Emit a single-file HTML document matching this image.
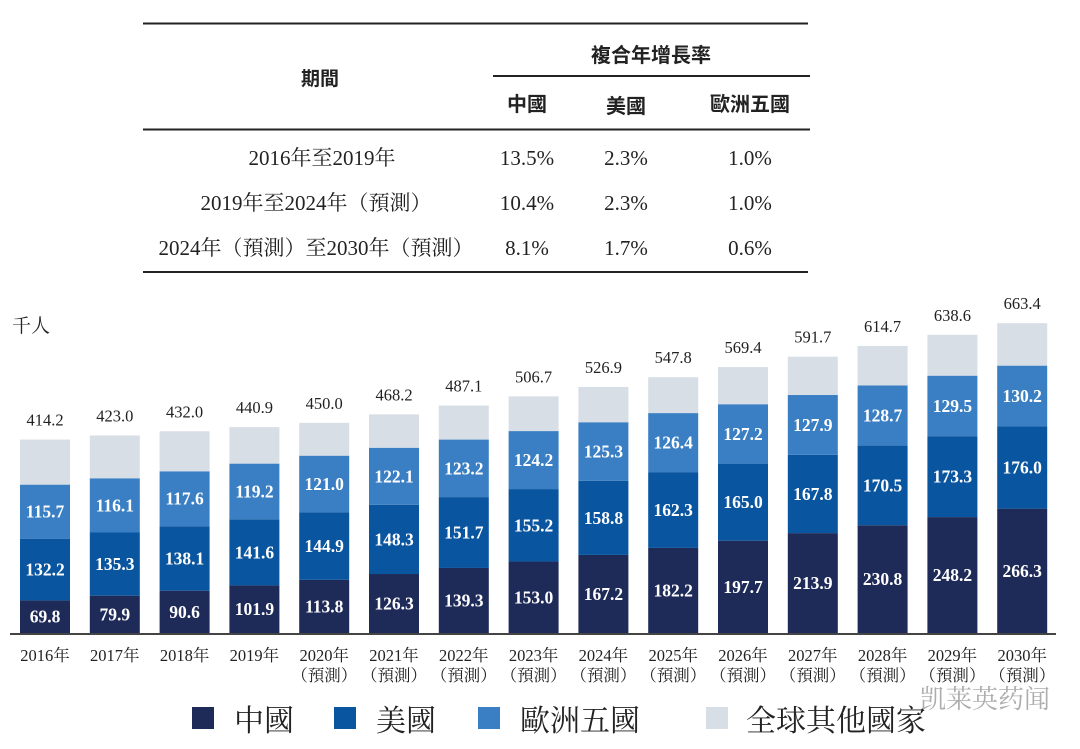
<!DOCTYPE html>
<html><head><meta charset="utf-8">
<style>
html,body{margin:0;padding:0;background:#fff;}
svg{display:block;}
text{font-family:"Liberation Serif","Noto Serif CJK SC",serif;}
.h{font-family:"Liberation Sans","Noto Sans CJK TC",sans-serif;font-weight:bold;}
</style></head>
<body>
<svg id="c" width="1080" height="749" viewBox="0 0 1080 749" xmlns="http://www.w3.org/2000/svg">
<g>
<line x1="143" y1="23.5" x2="808" y2="23.5" stroke="#222" stroke-width="2"/>
<line x1="493" y1="76" x2="810" y2="76" stroke="#222" stroke-width="2"/>
<line x1="143" y1="129.5" x2="810" y2="129.5" stroke="#222" stroke-width="2"/>
<line x1="143" y1="272" x2="808" y2="272" stroke="#222" stroke-width="2"/>
<text class="h" x="320" y="85" font-size="19" text-anchor="middle" fill="#222">期間</text>
<text class="h" x="651" y="62" font-size="20" text-anchor="middle" fill="#222">複合年增長率</text>
<text class="h" x="527" y="111" font-size="20" text-anchor="middle" fill="#222">中國</text>
<text class="h" x="626" y="113" font-size="20" text-anchor="middle" fill="#222">美國</text>
<text class="h" x="750" y="111" font-size="20" text-anchor="middle" fill="#222">歐洲五國</text>
<g font-size="21" fill="#222" text-anchor="middle">
<text x="322" y="165">2016年至2019年</text>
<text x="316" y="210">2019年至2024年（預測）</text>
<text x="316" y="255">2024年（預測）至2030年（預測）</text>
<text x="527" y="165">13.5%</text>
<text x="626" y="165">2.3%</text>
<text x="750" y="165">1.0%</text>
<text x="527" y="210">10.4%</text>
<text x="626" y="210">2.3%</text>
<text x="750" y="210">1.0%</text>
<text x="527" y="255">8.1%</text>
<text x="626" y="255">1.7%</text>
<text x="750" y="255">0.6%</text>
</g>
</g>
<text x="12" y="332" font-size="19" fill="#222">千人</text>
<g id="bars"></g>
<line x1="10" y1="634" x2="1056" y2="634" stroke="#444" stroke-width="2"/>
<g id="xl"></g>
<g font-size="30" fill="#222">
<g><rect x="192" y="707" width="22" height="22" fill="#1e2b59"/><text x="234" y="731">中國</text></g>
<g><rect x="334" y="707" width="22" height="22" fill="#0a559f"/><text x="376" y="731">美國</text></g>
<g><rect x="478" y="707" width="22" height="22" fill="#3a7fc3"/><text x="520" y="731">歐洲五國</text></g>
<g><rect x="706" y="707" width="22" height="22" fill="#d8dee6"/><text x="746" y="731">全球其他國家</text></g>
</g>
<text x="920" y="708" font-size="26" fill="#999" fill-opacity="0.8" font-family="'Liberation Sans','Noto Sans CJK SC',sans-serif">凯莱英药闻</text>
</svg>
<script>
const years=["2016年","2017年","2018年","2019年","2020年","2021年","2022年","2023年","2024年","2025年","2026年","2027年","2028年","2029年","2030年"];
const forecast=[false,false,false,false,true,true,true,true,true,true,true,true,true,true,true];
const china=[69.8,79.9,90.6,101.9,113.8,126.3,139.3,153.0,167.2,182.2,197.7,213.9,230.8,248.2,266.3];
const us=[132.2,135.3,138.1,141.6,144.9,148.3,151.7,155.2,158.8,162.3,165.0,167.8,170.5,173.3,176.0];
const eu5=[115.7,116.1,117.6,119.2,121.0,122.1,123.2,124.2,125.3,126.4,127.2,127.9,128.7,129.5,130.2];
const totals=[414.2,423.0,432.0,440.9,450.0,468.2,487.1,506.7,526.9,547.8,569.4,591.7,614.7,638.6,663.4];
const NS="http://www.w3.org/2000/svg";
const base=633, k=0.467, x0=20, step=69.8, bw=50;
const yS=v=>base-v*k;
const xS=i=>x0+i*step;
const cols=["#1e2b59","#0a559f","#3a7fc3","#d8dee6"];
const names=["china","us","eu5","others"];
const g=document.getElementById('bars'), xl=document.getElementById('xl');
function mk(t,a,p){const e=document.createElementNS(NS,t);for(const n in a)e.setAttribute(n,a[n]);p.appendChild(e);return e;}
years.forEach((y,i)=>{
  const others=totals[i]-china[i]-us[i]-eu5[i];
  const vals=[china[i],us[i],eu5[i],others];
  let cum=0;const x=xS(i);
  vals.forEach((v,j)=>{
    const r=mk('rect',{x:x,y:yS(cum+v),width:bw,height:v*k,fill:cols[j]},g);
    
    
    if(j<3){
      const t=mk('text',{x:x+bw/2,y:yS(cum+v/2)+6,'text-anchor':'middle','font-size':17.5,'font-weight':'bold',fill:'#fff'},g);
      t.textContent=v.toFixed(1);
      
      
    }
    cum+=v;
  });
  const tt=mk('text',{x:x+bw/2,y:yS(totals[i])-14,'text-anchor':'middle','font-size':16.5,fill:'#222'},g);
  tt.textContent=totals[i].toFixed(1);
  
  
  const l=mk('text',{x:x+bw/2,y:661,'text-anchor':'middle','font-size':16.5,fill:'#222'},xl);
  l.textContent=y;
  
  
  if(forecast[i]){
    const f=mk('text',{x:x+bw/2,y:681,'text-anchor':'middle','font-size':16.5,fill:'#222'},xl);
    f.textContent='（預測）';
    
    
  }
});
</script>
</body></html>
